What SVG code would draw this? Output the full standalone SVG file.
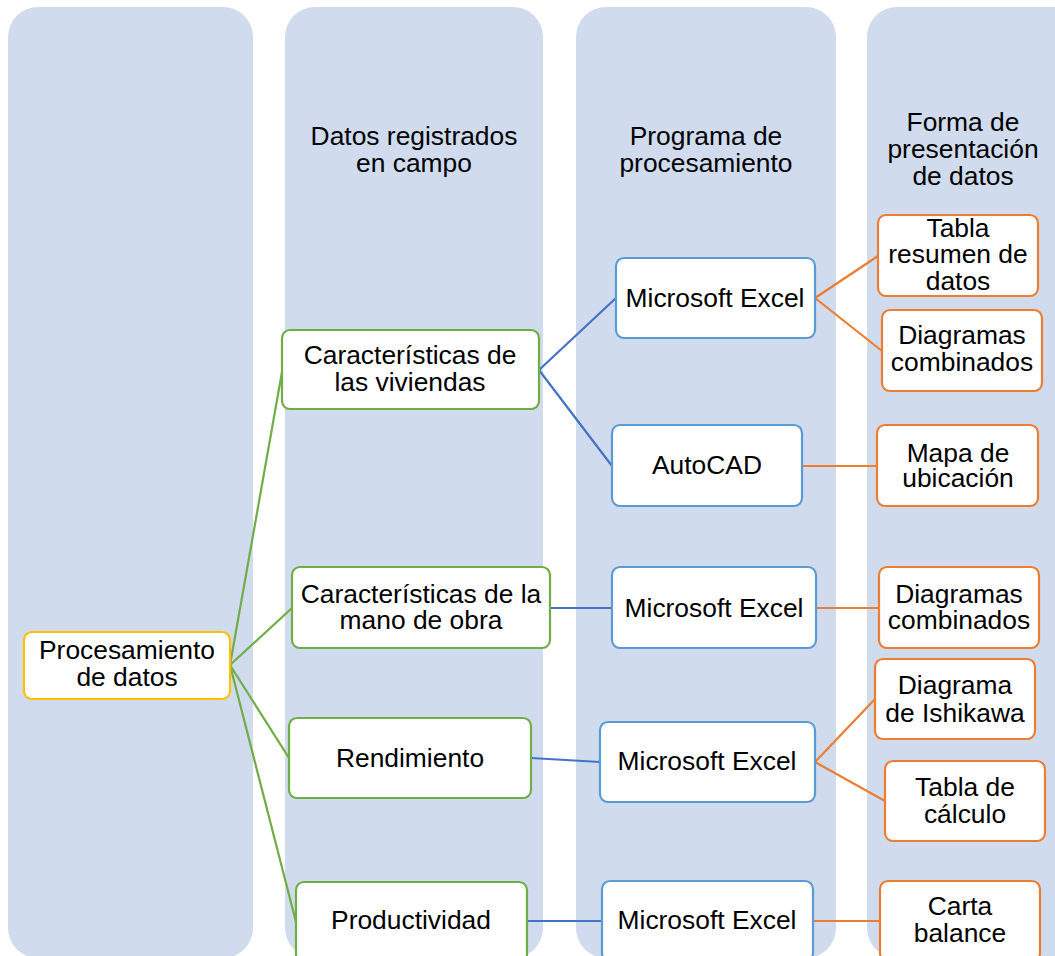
<svg xmlns="http://www.w3.org/2000/svg" width="1055" height="956" viewBox="0 0 1055 956">
<style>
.lane{fill:#D0DCEE}
.node rect{fill:#FFFFFF;stroke-width:2.2}
.n0 rect{stroke:#FFC000}
.n1 rect{stroke:#70AD47}
.n2 rect{stroke:#5B9BD5}
.n3 rect{stroke:#ED7D31}
text{font-family:"Liberation Sans",Arial,sans-serif;font-size:26.4px;fill:#000;text-anchor:middle}
.c1{stroke:#70AD47;stroke-width:2.2;fill:none}
.c2{stroke:#4472C4;stroke-width:2.2;fill:none}
.c3{stroke:#ED7D31;stroke-width:2.2;fill:none}
</style>
<rect width="1055" height="956" fill="#FFFFFF"/>
<g id="lanes">
<rect class="lane" x="8" y="7" width="245" height="951" rx="30"/>
<rect class="lane" x="285" y="7" width="258" height="951" rx="30"/>
<rect class="lane" x="576" y="7" width="260" height="951" rx="30"/>
<rect class="lane" x="867" y="7" width="250" height="951" rx="30"/>
<text x="414" y="145">Datos registrados</text>
<text x="414" y="172">en campo</text>
<text x="706" y="145">Programa de</text>
<text x="706" y="172">procesamiento</text>
<text x="963" y="131">Forma de</text>
<text x="963" y="158">presentación</text>
<text x="963" y="185">de datos</text>
</g>
<g id="connectors">
<line class="c1" x1="230" y1="665" x2="282" y2="372"/>
<line class="c1" x1="230" y1="665" x2="292" y2="608"/>
<line class="c1" x1="230" y1="665" x2="289" y2="758"/>
<line class="c1" x1="230" y1="665" x2="296" y2="922"/>
<line class="c2" x1="539" y1="370" x2="616" y2="298"/>
<line class="c2" x1="539" y1="370" x2="612" y2="466"/>
<line class="c2" x1="550" y1="608" x2="612" y2="608"/>
<line class="c2" x1="531" y1="758" x2="600" y2="762"/>
<line class="c2" x1="527" y1="921" x2="602" y2="921"/>
<line class="c3" x1="815" y1="298" x2="878" y2="256"/>
<line class="c3" x1="815" y1="298" x2="882" y2="351"/>
<line class="c3" x1="802" y1="466" x2="877" y2="466"/>
<line class="c3" x1="816" y1="608" x2="879" y2="608"/>
<line class="c3" x1="815" y1="762" x2="875" y2="699"/>
<line class="c3" x1="815" y1="762" x2="885" y2="801"/>
<line class="c3" x1="813" y1="921" x2="880" y2="921"/>
</g>
<g id="root" class="node n0">
<rect x="24" y="632" width="206" height="67" rx="8"/>
<text x="127" y="659">Procesamiento</text>
<text x="127" y="686">de datos</text>
</g>
<g id="viviendas" class="node n1">
<rect x="282" y="330" width="257" height="79" rx="8"/>
<text x="410" y="364">Características de</text>
<text x="410" y="391">las viviendas</text>
</g>
<g id="manoobra" class="node n1">
<rect x="292" y="567" width="258" height="81" rx="8"/>
<text x="421" y="603">Características de la</text>
<text x="421" y="629">mano de obra</text>
</g>
<g id="rendimiento" class="node n1">
<rect x="289" y="718" width="242" height="80" rx="8"/>
<text x="410" y="767">Rendimiento</text>
</g>
<g id="productividad" class="node n1">
<rect x="296" y="882" width="231" height="80" rx="8"/>
<text x="411" y="929">Productividad</text>
</g>
<g id="excel1" class="node n2">
<rect x="616" y="258" width="199" height="80" rx="8"/>
<text x="715" y="307">Microsoft Excel</text>
</g>
<g id="autocad" class="node n2">
<rect x="612" y="425" width="190" height="81" rx="8"/>
<text x="707" y="474">AutoCAD</text>
</g>
<g id="excel2" class="node n2">
<rect x="612" y="567" width="204" height="81" rx="8"/>
<text x="714" y="617">Microsoft Excel</text>
</g>
<g id="excel3" class="node n2">
<rect x="600" y="722" width="215" height="80" rx="8"/>
<text x="707" y="770">Microsoft Excel</text>
</g>
<g id="excel4" class="node n2">
<rect x="602" y="881" width="211" height="80" rx="8"/>
<text x="707" y="929">Microsoft Excel</text>
</g>
<g id="tablaresumen" class="node n3">
<rect x="878" y="215" width="160" height="81" rx="8"/>
<text x="958" y="237">Tabla</text>
<text x="958" y="263">resumen de</text>
<text x="958" y="290">datos</text>
</g>
<g id="diagcomb1" class="node n3">
<rect x="882" y="310" width="160" height="81" rx="8"/>
<text x="962" y="344">Diagramas</text>
<text x="962" y="371">combinados</text>
</g>
<g id="mapa" class="node n3">
<rect x="877" y="425" width="161" height="81" rx="8"/>
<text x="958" y="462">Mapa de</text>
<text x="958" y="487">ubicación</text>
</g>
<g id="diagcomb2" class="node n3">
<rect x="879" y="567" width="160" height="81" rx="8"/>
<text x="959" y="603">Diagramas</text>
<text x="959" y="629">combinados</text>
</g>
<g id="ishikawa" class="node n3">
<rect x="875" y="659" width="160" height="80" rx="8"/>
<text x="955" y="694">Diagrama</text>
<text x="955" y="722">de Ishikawa</text>
</g>
<g id="tablacalculo" class="node n3">
<rect x="885" y="761" width="160" height="80" rx="8"/>
<text x="965" y="796">Tabla de</text>
<text x="965" y="823">cálculo</text>
</g>
<g id="carta" class="node n3">
<rect x="880" y="881" width="160" height="80" rx="8"/>
<text x="960" y="915">Carta</text>
<text x="960" y="942">balance</text>
</g>
</svg>
